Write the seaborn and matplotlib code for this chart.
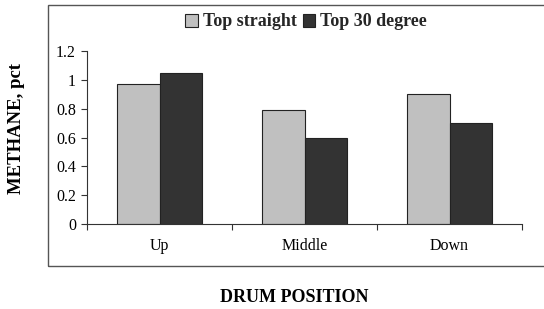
import matplotlib
matplotlib.use("Agg")
import matplotlib.pyplot as plt
import seaborn as sns
import pandas as pd
from matplotlib.patches import Rectangle, Patch

categories = ["Up", "Middle", "Down"]
series_names = ["Top straight", "Top 30 degree"]
top_straight = [0.97, 0.79, 0.90]
top_30 = [1.05, 0.60, 0.70]
y_ticks = [0, 0.2, 0.4, 0.6, 0.8, 1, 1.2]
y_tick_labels = ["0", "0.2", "0.4", "0.6", "0.8", "1", "1.2"]

sns.set_theme(style="white")
plt.rcParams["font.family"] = ["Liberation Serif", "DejaVu Serif"]

df = pd.DataFrame({
    "position": categories * 2,
    "series": [series_names[0]] * 3 + [series_names[1]] * 3,
    "value": top_straight + top_30,
})

colors = ["#c0c0c0", "#333333"]

fig = plt.figure(figsize=(5.44, 3.09), dpi=100)
ax = fig.add_axes([87 / 544, 1 - 224 / 309, (522 - 87) / 544, (224 - 51) / 309])

sns.barplot(data=df, x="position", y="value", hue="series", order=categories,
            hue_order=series_names, palette=colors, width=0.58, gap=0,
            edgecolor="#222222", linewidth=0.8, ax=ax, legend=False)

ax.set_xlim(-0.5, 2.5)
ax.set_ylim(0, 1.2)
ax.set_yticks(y_ticks)
ax.set_yticklabels(y_tick_labels, fontsize=11.5, color="black")
ax.set_xticks([-0.5, 0.5, 1.5, 2.5])
ax.set_xticklabels([])
ax.set_xticks([0, 1, 2], minor=True)
ax.set_xticklabels(categories, minor=True, fontsize=11.5, color="black")
ax.tick_params(axis="x", which="minor", length=0, pad=10)
ax.tick_params(axis="x", which="major", direction="out", length=4, width=0.8, color="#333333", bottom=True)
ax.tick_params(axis="y", direction="out", length=4, width=0.8, color="#333333", left=True, pad=4)
for s in ["top", "right"]:
    ax.spines[s].set_visible(False)
for s in ["left", "bottom"]:
    ax.spines[s].set_color("#333333")
    ax.spines[s].set_linewidth(0.8)
ax.set_xlabel("")
ax.set_ylabel("")

fig.text(17 / 544, 1 - 128 / 309, "METHANE, pct", rotation=90, ha="center", va="center",
         fontsize=13.5, fontweight="bold", color="black")
fig.text(294 / 544, 1 - 297 / 309, "DRUM POSITION", ha="center", va="center",
         fontsize=13, fontweight="bold", color="black")

frame = Rectangle((48 / 544, 1 - 266 / 309), 1.0, (266 - 5) / 309, transform=fig.transFigure,
                  fill=False, edgecolor="#555555", linewidth=1.0)
fig.patches.append(frame)

handles = [Patch(facecolor=c, edgecolor="#222222", linewidth=0.8) for c in colors]
fig.legend(handles, series_names, loc="center", bbox_to_anchor=(306 / 544, 1 - 22 / 309),
           ncol=2, frameon=False, prop={"weight": "bold", "size": 13},
           handlelength=0.7, handleheight=0.7, handletextpad=0.25, columnspacing=0.35)

fig.savefig("out.png", dpi=100)
